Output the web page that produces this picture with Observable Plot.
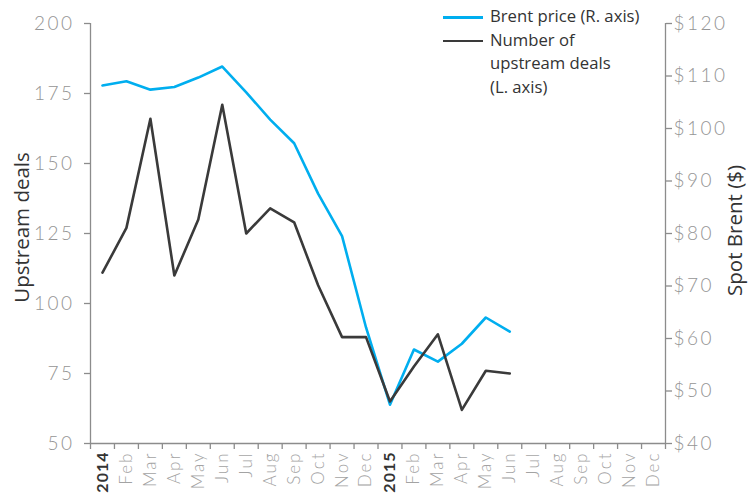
<!DOCTYPE html>
<html><head><meta charset="utf-8">
<script src="https://cdn.jsdelivr.net/npm/d3@7"></script>
<script src="https://cdn.jsdelivr.net/npm/@observablehq/plot@0.6"></script>
<style>
body{margin:0;background:#fff;}
#wrap{position:relative;width:755px;height:502px;font-family:"Open Sans",sans-serif;}
#legend{position:absolute;left:443px;top:4px;font-size:16.7px;color:#333;line-height:23.5px;z-index:2;}
.row{display:flex;align-items:flex-start;}
.sw{width:40px;height:2.5px;margin-top:12px;margin-right:7px;flex:none;}
</style></head>
<body><div id="wrap"><div id="legend">
<div class="row"><div class="sw" style="background:#00aeef"></div><div>Brent price (R. axis)</div></div>
<div class="row"><div class="sw" style="background:#3a3a3a"></div><div>Number of<br>upstream deals<br>(L. axis)</div></div>
</div></div>
<script>
const monthLabels = ["2014","Feb","Mar","Apr","May","Jun","Jul","Aug","Sep","Oct","Nov","Dec",
                     "2015","Feb","Mar","Apr","May","Jun","Jul","Aug","Sep","Oct","Nov","Dec"];
const deals = [111,127,166,110,130,171,125,134,129,106.5,88,88,65,77.5,89,62,76,75];
const brent = [108.2,109.0,107.4,107.9,109.7,111.8,106.9,101.7,97.2,87.6,79.5,62.1,47.4,57.9,55.6,59.0,64.0,61.3];
const leftTicks = [50,75,100,125,150,175,200];
const rightTicks = [40,50,60,70,80,90,100,110,120];

// map Brent ($40..$120) onto the left scale (50..200)
const toLeft = p => 50 + (p - 40) * 150 / 80;
const toPrice = v => 40 + (v - 50) * 80 / 150;

const dealsData = deals.map((v, i) => ({i, v}));
const brentData = brent.map((p, i) => ({i, v: toLeft(p)}));
const labelData = monthLabels.map((m, i) => ({i, m, year: /^\d{4}$/.test(m)}));

const font = "Lato, 'Noto Sans', sans-serif";
const grey = "#8c8c8c";

const chart = Plot.plot({
  width: 755, height: 502,
  marginLeft: 90, marginRight: 90, marginTop: 23, marginBottom: 59,
  style: {fontFamily: font, background: "transparent", overflow: "visible"},
  x: {type: "linear", domain: [0, 24], axis: null},
  y: {domain: [50, 200], axis: null},
  marks: [
    Plot.ruleX([0], {stroke: grey, strokeWidth: 1.3}),
    Plot.ruleX([24], {stroke: grey, strokeWidth: 1.3}),
    Plot.ruleY([50], {stroke: grey, strokeWidth: 1.3}),
    Plot.axisY(leftTicks, {anchor: "left", tickSize: 6, text: null, stroke: grey, strokeWidth: 1.3, label: null}),
    Plot.axisY(leftTicks, {anchor: "left", tickSize: 0, tickPadding: 16, fill: "#959595",
      fontSize: 19, label: null}),
    Plot.axisY(rightTicks.map(toLeft), {anchor: "right", tickSize: 6, text: null, stroke: grey, strokeWidth: 1.3, label: null}),
    Plot.axisY(rightTicks.map(toLeft), {anchor: "right", tickSize: 0, tickPadding: 8, fill: "#959595",
      fontSize: 19, label: null, tickFormat: v => "$" + Math.round(toPrice(v))}),
    Plot.axisX(d3.range(25), {anchor: "bottom", tickSize: 6, stroke: grey, strokeWidth: 1.3, text: null, label: null}),
    Plot.text(labelData.filter(d => !d.year), {x: d => d.i + 0.5, frameAnchor: "bottom", dy: 8, rotate: -90,
      text: "m", textAnchor: "end", lineAnchor: "middle", fill: "#a3a3a3", fontSize: 17}),
    Plot.text(labelData.filter(d => d.year), {x: d => d.i + 0.5, frameAnchor: "bottom", dy: 8, rotate: -90,
      text: "m", textAnchor: "end", lineAnchor: "middle", fill: "#333", fontWeight: "bold", fontSize: 16}),
    Plot.text(["Upstream deals"], {frameAnchor: "left", dx: -68, dy: -6, rotate: -90, textAnchor: "middle",
      fill: "#333", fontSize: 20.5, fontFamily: "'Open Sans', sans-serif"}),
    Plot.text(["Spot Brent ($)"], {frameAnchor: "right", dx: 70, dy: -3, rotate: -90, textAnchor: "middle",
      fill: "#333", fontSize: 20.5, fontFamily: "'Open Sans', sans-serif"}),
    Plot.line(brentData, {x: d => d.i + 0.5, y: "v", stroke: "#00aeef", strokeWidth: 2.6}),
    Plot.line(dealsData, {x: d => d.i + 0.5, y: "v", stroke: "#3a3a3a", strokeWidth: 2.6})
  ]
});
// typographic tweaks: wide, light tick labels
d3.select(chart).selectAll("text").each(function() {
  const t = this.textContent;
  if (/^\$?\d{2,3}$/.test(t)) { this.style.letterSpacing = "2.5px"; this.style.fontWeight = "300"; }
  else if (/^[A-Z][a-z]{2}$/.test(t)) { this.style.letterSpacing = "2px"; this.style.fontWeight = "300"; }
  else if (/^\d{4}$/.test(t)) { this.style.letterSpacing = "1px"; }
});
document.getElementById("wrap").prepend(chart);
chart.style.position = "absolute"; chart.style.left = "0"; chart.style.top = "0";
</script></body></html>
